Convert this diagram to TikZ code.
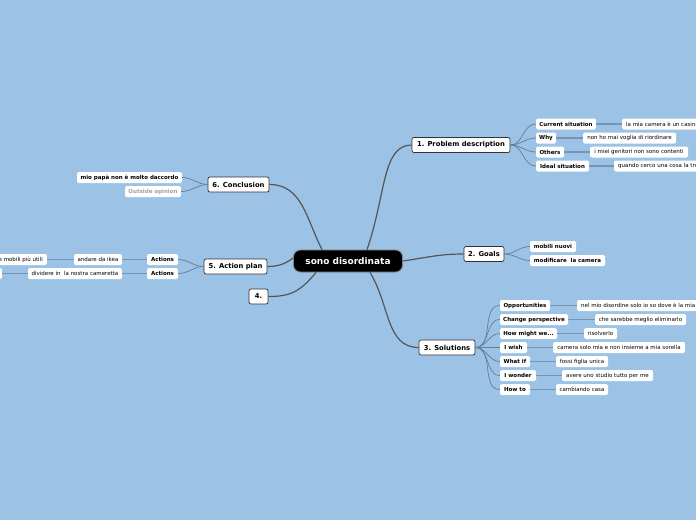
\documentclass[tikz,border=0pt]{standalone}
\usepackage{fontspec}
\setmainfont{DejaVu Sans}
\usetikzlibrary{calc}
\definecolor{bg}{RGB}{156,194,230}
\definecolor{mainline}{RGB}{85,85,85}
\definecolor{subline}{RGB}{100,125,152}
\definecolor{leafline}{RGB}{118,148,182}
\definecolor{topicborder}{RGB}{50,50,50}
\definecolor{greytext}{RGB}{160,160,160}
\tikzset{
 central/.style={fill=black, draw=gray, line width=0.8pt, rounded corners=7pt, text=white, font=\fontsize{9}{10}\selectfont\bfseries, minimum height=22pt, minimum width=109pt, inner xsep=2pt, inner ysep=0pt},
 topic/.style={fill=white, draw=topicborder, line width=0.7pt, rounded corners=2pt, font=\fontsize{6.8}{7.5}\selectfont\bfseries, minimum height=15pt, inner xsep=2pt, inner ysep=0pt},
 sub/.style={fill=white, rounded corners=1.5pt, font=\fontsize{5.5}{6}\selectfont\bfseries, minimum height=11pt, inner xsep=2pt, inner ysep=0pt},
 leaf/.style={fill=white, rounded corners=1.5pt, font=\fontsize{5.5}{6}\selectfont, minimum height=11pt, inner xsep=2pt, inner ysep=0pt},
 mline/.style={draw=mainline, line width=1.2pt},
 sline/.style={draw=subline, line width=0.7pt},
 lline/.style={draw=leafline, line width=1.8pt},
 mw/.style={minimum width=#1pt},
}
\begin{document}
\begin{tikzpicture}[x=1pt,y=-1pt]
\useasboundingbox (0,0) rectangle (696,520);
\clip (0,0) rectangle (696,520);
\fill[bg] (0,0) rectangle (696,520);

% central
\node[central] (c) at (348,261) {sono disordinata};

% 1. Problem description
\node[topic, mw=98] (p) at (461,145) {1. Problem description};
\node[sub, mw=60] (p1) at (566,124) {Current situation};
\node[sub, mw=20] (p2) at (546,138) {Why};
\node[sub, mw=28] (p3) at (550,152) {Others};
\node[sub, mw=53] (p4) at (562.5,166) {Ideal situation};
\node[leaf, anchor=west, inner xsep=4pt] (p1l) at (622,124) {la mia camera è un casino};
\node[leaf, mw=93] (p2l) at (629.5,138) {non ho mai voglia di riordinare};
\node[leaf, mw=98] (p3l) at (639,152) {i miei genitori non sono contenti};
\node[leaf, anchor=west, inner xsep=4pt] (p4l) at (614,166) {quando cerco una cosa la trovo};

% 6. Conclusion
\node[topic, mw=61] (con) at (238.5,184.5) {6. Conclusion};
\node[sub, mw=105] (con1) at (129.5,177.5) {mio papà non è molto daccordo};
\node[sub, mw=56, text=greytext] (con2) at (153,191.5) {Outside opinion};

% 2. Goals
\node[topic, mw=40] (g) at (484,254) {2. Goals};
\node[sub, mw=46] (g1) at (553,246.5) {mobili nuovi};
\node[sub, mw=75] (g2) at (567.5,260.5) {modificare\ \ la camera};

% 5. Action plan
\node[topic, mw=63] (ap) at (235.5,266.5) {5. Action plan};
\node[sub, mw=31] (ap1) at (162.5,259.5) {Actions};
\node[sub, mw=31] (ap2) at (162.5,273.5) {Actions};
\node[leaf, mw=48] (ap1l) at (98,259.5) {andare da ikea};
\node[leaf, mw=94] (ap2l) at (75,273.5) {dividere in\ \ la nostra cameretta};
\node[leaf, anchor=east, inner xsep=4pt] (ap1ll) at (47,259.5) {comprare mobili più utili};
\node[leaf, anchor=east, mw=40] (ap2ll) at (2,273.5) {};

% 4.
\node[topic, mw=19] (four) at (258.5,296.5) {4.};

% 3. Solutions
\node[topic, mw=56] (sol) at (447,347.5) {3. Solutions};
\node[sub, mw=50] (s1) at (525,305.5) {Opportunities};
\node[sub, mw=68] (s2) at (534,319.5) {Change perspective};
\node[sub, mw=57] (s3) at (528.5,333.5) {How might we...};
\node[sub, mw=27] (s4) at (513.5,347.5) {I wish};
\node[sub, mw=30] (s5) at (515,361.5) {What if};
\node[sub, mw=36] (s6) at (518,375.5) {I wonder};
\node[sub, mw=30] (s7) at (515,389.5) {How to};
\node[leaf, anchor=west, inner xsep=4pt] (s1l) at (577,305.5) {nel mio disordine solo io so dove è la mia roba};
\node[leaf, mw=91] (s2l) at (640.5,319.5) {che sarebbe meglio eliminarlo};
\node[leaf, mw=33] (s3l) at (600.5,333.5) {risolverlo};
\node[leaf, mw=132] (s4l) at (619,347.5) {camera solo mia e non insieme a mia sorella};
\node[leaf, mw=52] (s5l) at (582,361.5) {fossi figlia unica};
\node[leaf, mw=91] (s6l) at (607.5,375.5) {avere uno studio tutto per me};
\node[leaf, mw=52] (s7l) at (582,389.5) {cambiando casa};

% main connectors
\draw[mline] ([xshift=19pt]c.north) .. controls (386,195) and (382,145) .. (p.west);
\draw[mline] ([xshift=-26pt]c.north) .. controls (306,218) and (302,184.5) .. (con.east);
\draw[mline] (c.east) .. controls (430,257) and (440,254) .. (g.west);
\draw[mline] ([yshift=3pt]c.west) .. controls (284,265) and (276,266.5) .. (ap.east);
\draw[mline] ([xshift=-32pt]c.south) .. controls (300,292) and (290,296.5) .. (four.east);
\draw[mline] ([xshift=22pt]c.south) .. controls (390,305) and (386,347.5) .. (sol.west);

% sub connectors
\foreach \s in {p1,p2,p3,p4} \draw[sline] (p.east) to[out=0,in=180] (\s.west);
\foreach \s in {con1,con2} \draw[sline] (con.west) to[out=180,in=0] (\s.east);
\foreach \s in {g1,g2} \draw[sline] (g.east) to[out=0,in=180] (\s.west);
\foreach \s in {ap1,ap2} \draw[sline] (ap.west) to[out=180,in=0] (\s.east);
\foreach \s in {s1,s2,s3,s4,s5,s6,s7} \draw[sline] (sol.east) to[out=0,in=180] (\s.west);

% leaf connectors
\foreach \a/\b in {p1/p1l,p2/p2l,p3/p3l,p4/p4l,s1/s1l,s2/s2l,s3/s3l,s4/s4l,s5/s5l,s6/s6l,s7/s7l}
  \draw[lline] (\a.east) -- (\b.west);
\foreach \a/\b in {ap1/ap1l,ap2/ap2l,ap1l/ap1ll,ap2l/ap2ll}
  \draw[lline] (\a.west) -- (\b.east);
\end{tikzpicture}
\end{document}
